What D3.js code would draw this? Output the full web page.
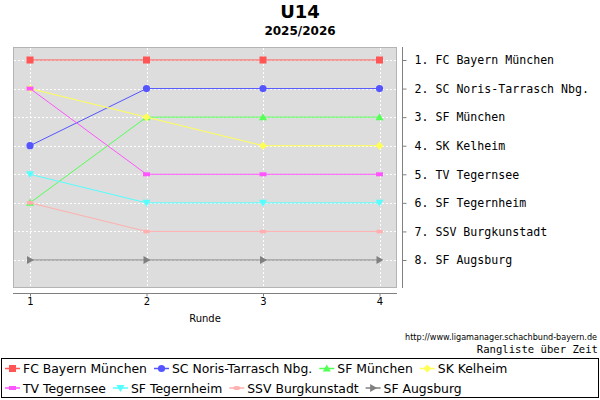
<!DOCTYPE html>
<html>
<head>
<meta charset="utf-8">
<script src="https://cdn.jsdelivr.net/npm/d3@7"></script>
<style>
  body { margin: 0; background: #fff; }
  svg { display: block; }
</style>
</head>
<body>
<div id="chart"></div>
<script>
var svgWidth = 600;
var svgHeight = 400;

// rounds and teams
var rounds = [1, 2, 3, 4];
var teams = ["FC Bayern München", "SC Noris-Tarrasch Nbg.", "SF München", "SK Kelheim",
  "TV Tegernsee", "SF Tegernheim", "SSV Burgkunstadt", "SF Augsburg"];
var colors = ["#ff5555", "#5555ff", "#55ff55", "#ffff55", "#ff55ff", "#55ffff", "#ffafaf", "#808080"];
var shapes = ["square", "circle", "up", "diamond", "hrect", "down", "ellipse", "right"];

// rank per round, same order as teams
var ranks = [
  [1, 1, 1, 1],
  [4, 2, 2, 2],
  [6, 3, 3, 3],
  [2, 3, 4, 4],
  [2, 5, 5, 5],
  [5, 6, 6, 6],
  [6, 7, 7, 7],
  [8, 8, 8, 8]
];
var finalLabels = ["1. FC Bayern München", "2. SC Noris-Tarrasch Nbg.", "3. SF München",
  "4. SK Kelheim", "5. TV Tegernsee", "6. SF Tegernheim", "7. SSV Burgkunstadt", "8. SF Augsburg"];

var plot = { left: 13, top: 47, right: 397, bottom: 288 };

var svg = d3.select("#chart")
  .append("svg")
  .attr("width", svgWidth)
  .attr("height", svgHeight)
  .style("font-family", "'DejaVu Sans', sans-serif");

// title
svg.append("text")
  .attr("x", 300).attr("y", 18)
  .attr("text-anchor", "middle")
  .attr("font-size", 18).attr("font-weight", "bold")
  .text("U14");
svg.append("text")
  .attr("x", 300).attr("y", 35)
  .attr("text-anchor", "middle")
  .attr("font-size", 12).attr("font-weight", "bold")
  .text("2025/2026");

// scales
var x = d3.scaleLinear().domain([1, 4]).range([30, 379.5]);
var y = d3.scaleLinear().domain([1, 8]).range([60, 260]);

// plot background
svg.append("rect")
  .attr("x", plot.left + 0.5).attr("y", plot.top + 0.5)
  .attr("width", plot.right - plot.left - 1)
  .attr("height", plot.bottom - plot.top - 1)
  .attr("fill", "#dddddd")
  .attr("stroke", "#b4b4b4");

// gridlines
var grid = svg.append("g").attr("stroke", "#ffffff").attr("stroke-dasharray", "2,2").attr("stroke-width", 1);
rounds.forEach(function(r) {
  grid.append("line")
    .attr("x1", Math.round(x(r)) + 0.5).attr("x2", Math.round(x(r)) + 0.5)
    .attr("y1", plot.top + 1).attr("y2", plot.bottom - 1);
});
d3.range(1, 9).forEach(function(k) {
  grid.append("line")
    .attr("x1", plot.left + 1).attr("x2", plot.right - 1)
    .attr("y1", Math.round(y(k)) + 0.5).attr("y2", Math.round(y(k)) + 0.5);
});

// bottom axis
var bottomAxis = d3.axisBottom(x).tickValues(rounds).tickFormat(d3.format("d")).tickSize(3).tickSizeOuter(0);
var gx = svg.append("g")
  .attr("transform", "translate(0, 293.5)")
  .call(bottomAxis);
gx.select(".domain").attr("d", "M" + plot.left + ",0H" + plot.right).attr("stroke", "#808080");
gx.selectAll(".tick line").attr("stroke", "#808080");
gx.selectAll(".tick text").attr("font-size", 10).attr("font-family", "'DejaVu Sans', sans-serif").attr("fill", "#000").attr("dy", "0.5em");

svg.append("text")
  .attr("x", 205).attr("y", 322)
  .attr("text-anchor", "middle")
  .attr("font-size", 10)
  .text("Runde");

// right axis with final ranking
var rightAxis = d3.axisRight(y).tickValues(d3.range(1, 9))
  .tickFormat(function(d) { return finalLabels[d - 1]; })
  .tickSize(4).tickSizeOuter(0).tickPadding(8);
var gy = svg.append("g")
  .attr("transform", "translate(402.5, 0)")
  .call(rightAxis);
gy.select(".domain").attr("d", "M0," + plot.top + "V" + plot.bottom).attr("stroke", "#808080");
gy.selectAll(".tick line").attr("stroke", "#808080");
gy.selectAll(".tick text")
  .attr("font-size", 11.6)
  .attr("font-family", "'DejaVu Sans Mono', monospace")
  .attr("fill", "#000");

// marker drawing
function drawShape(g, shape, cx, cy, color) {
  if (shape === "square") {
    g.append("rect").attr("x", cx - 3.5).attr("y", cy - 3.5).attr("width", 7).attr("height", 7).attr("fill", color);
  } else if (shape === "circle") {
    g.append("circle").attr("cx", cx).attr("cy", cy).attr("r", 3.6).attr("fill", color);
  } else if (shape === "up") {
    g.append("path").attr("d", "M" + cx + "," + (cy - 4) + "L" + (cx + 4) + "," + (cy + 3) + "L" + (cx - 4) + "," + (cy + 3) + "Z").attr("fill", color);
  } else if (shape === "down") {
    g.append("path").attr("d", "M" + cx + "," + (cy + 4) + "L" + (cx + 4) + "," + (cy - 3) + "L" + (cx - 4) + "," + (cy - 3) + "Z").attr("fill", color);
  } else if (shape === "diamond") {
    g.append("path").attr("d", "M" + cx + "," + (cy - 4) + "L" + (cx + 4) + "," + cy + "L" + cx + "," + (cy + 4) + "L" + (cx - 4) + "," + cy + "Z").attr("fill", color);
  } else if (shape === "hrect") {
    g.append("rect").attr("x", cx - 3.5).attr("y", cy - 2).attr("width", 7).attr("height", 4).attr("fill", color);
  } else if (shape === "ellipse") {
    g.append("ellipse").attr("cx", cx).attr("cy", cy).attr("rx", 3.5).attr("ry", 2).attr("fill", color);
  } else if (shape === "right") {
    g.append("path").attr("d", "M" + (cx + 4) + "," + cy + "L" + (cx - 3) + "," + (cy - 4) + "L" + (cx - 3) + "," + (cy + 4) + "Z").attr("fill", color);
  }
}

// series lines and markers
var line = d3.line()
  .x(function(d, i) { return x(rounds[i]); })
  .y(function(d) { return y(d); });

var series = svg.append("g");
ranks.forEach(function(vals, i) {
  series.append("path")
    .attr("d", line(vals))
    .attr("fill", "none")
    .attr("stroke", colors[i])
    .attr("stroke-width", 1);
});
ranks.forEach(function(vals, i) {
  var g = series.append("g");
  vals.forEach(function(v, j) {
    drawShape(g, shapes[i], x(rounds[j]), y(v), colors[i]);
  });
});

// source and subtitle
svg.append("text")
  .attr("x", 597).attr("y", 340)
  .attr("text-anchor", "end")
  .attr("font-size", 8.1)
  .text("http://www.ligamanager.schachbund-bayern.de");
svg.append("text")
  .attr("x", 598).attr("y", 352.5)
  .attr("text-anchor", "end")
  .attr("font-size", 10.6)
  .attr("font-family", "'DejaVu Sans Mono', monospace")
  .text("Rangliste über Zeit");

// legend
svg.append("rect")
  .attr("x", 1.5).attr("y", 358.5)
  .attr("width", 597).attr("height", 39)
  .attr("fill", "#fff").attr("stroke", "#000");

var legendRows = [368.5, 388];
var cursor = 5;
teams.forEach(function(t, i) {
  if (i === 4) cursor = 5;
  var ly = legendRows[i < 4 ? 0 : 1];
  var g = svg.append("g");
  g.append("line")
    .attr("x1", cursor).attr("x2", cursor + 15)
    .attr("y1", ly).attr("y2", ly)
    .attr("stroke", colors[i]).attr("stroke-width", 1.5);
  drawShape(g, shapes[i], cursor + 7.5, ly, colors[i]);
  var txt = g.append("text")
    .attr("x", cursor + 18).attr("y", ly + 4.5)
    .attr("font-size", 12.4)
    .text(t);
  cursor = cursor + 18 + txt.node().getComputedTextLength() + 7;
});
</script>
</body>
</html>
